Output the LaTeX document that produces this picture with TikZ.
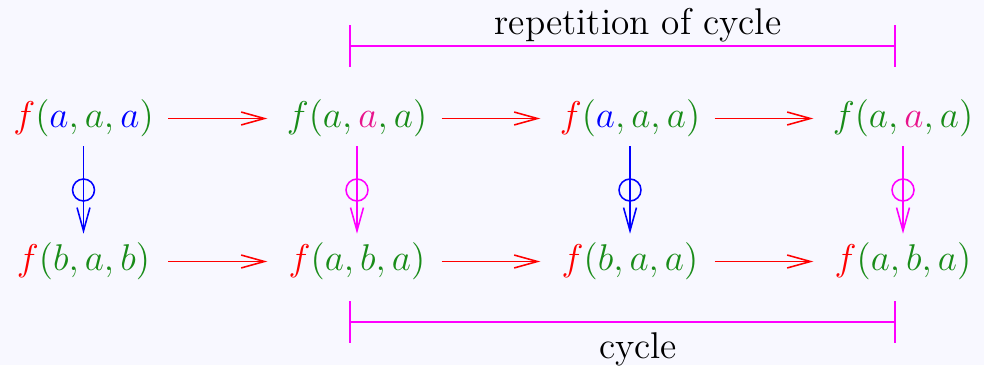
\documentclass[tikz,border=0pt]{standalone}
\usetikzlibrary{arrows.meta,positioning}
\definecolor{fred}{RGB}{255,0,0}
\definecolor{fgreen}{RGB}{25,140,25}
\definecolor{fblue}{RGB}{0,0,255}
\definecolor{fpink}{RGB}{232,20,140}
\definecolor{fmagenta}{RGB}{255,0,255}
\definecolor{softbg}{RGB}{248,248,255}
\tikzset{
  term/.style={font=\Large, text=fgreen},
  steparrow/.style={-{Straight Barb[length=9pt,width=5pt]}, line width=0.6pt,
    color=fred, shorten <=2pt, shorten >=4pt},
  testarrow/.style={-{Straight Barb[length=9pt,width=5pt]}, line width=0.6pt, color=#1},
  ring/.style={circle, draw=#1, line width=0.6pt, minimum size=8.5pt, inner sep=0pt},
  span/.style={{Bar[width=16pt]}-{Bar[width=16pt]}, line width=0.6pt, color=fmagenta},
  spanlabel/.style={font=\Large, anchor=base, text=black}
}

\begin{document}
\begin{tikzpicture}[x=0.3867pt,y=0.3867pt]
  \fill[softbg] (0,0) rectangle (984,365);
  \useasboundingbox (0,0) rectangle (984,365);

  \node[term] (top1) at (83.5,246.5) {$\textcolor{fred}{f}(\textcolor{fblue}{a},a,\textcolor{fblue}{a})$};
  \node[term] (top2) at (357,246.5) {$f(a,\textcolor{fpink}{a},a)$};
  \node[term] (top3) at (630,246.5) {$\textcolor{fred}{f}(\textcolor{fblue}{a},a,a)$};
  \node[term] (top4) at (903,246.5) {$f(a,\textcolor{fpink}{a},a)$};

  \node[term] (bot1) at (83.5,103.5) {$\textcolor{fred}{f}(b,a,b)$};
  \node[term] (bot2) at (357,103.5) {$\textcolor{fred}{f}(a,b,a)$};
  \node[term] (bot3) at (630,103.5) {$\textcolor{fred}{f}(b,a,a)$};
  \node[term] (bot4) at (903,103.5) {$\textcolor{fred}{f}(a,b,a)$};

  \draw[steparrow] (top1) -- (top2);
  \draw[steparrow] (top2) -- (top3);
  \draw[steparrow] (top3) -- (top4);
  \draw[steparrow] (top1.east |- bot1) -- (top2.west |- bot2);
  \draw[steparrow] (top2.east |- bot2) -- (top3.west |- bot3);
  \draw[steparrow] (top3.east |- bot3) -- (top4.west |- bot4);

  \draw[testarrow=fblue] (top1) -- node[ring=fblue] {} (bot1);
  \draw[testarrow=fmagenta] (top2) -- node[ring=fmagenta] {} (bot2);
  \draw[testarrow=fblue] (top3) -- node[ring=fblue] {} (bot3);
  \draw[testarrow=fmagenta] (top4) -- node[ring=fmagenta] {} (bot4);

  \coordinate (repL) at (349,319);
  \coordinate (repR) at (896,319);
  \coordinate (cycL) at (349,43);
  \coordinate (cycR) at (896,43);
  \draw[span] (repL) -- (repR);
  \draw[span] (cycL) -- (cycR);
  \node[spanlabel] (replabel) at (638,330) {repetition of cycle};
  \node[spanlabel] (cyclabel) at (638,7) {cycle};
\end{tikzpicture}
\end{document}
